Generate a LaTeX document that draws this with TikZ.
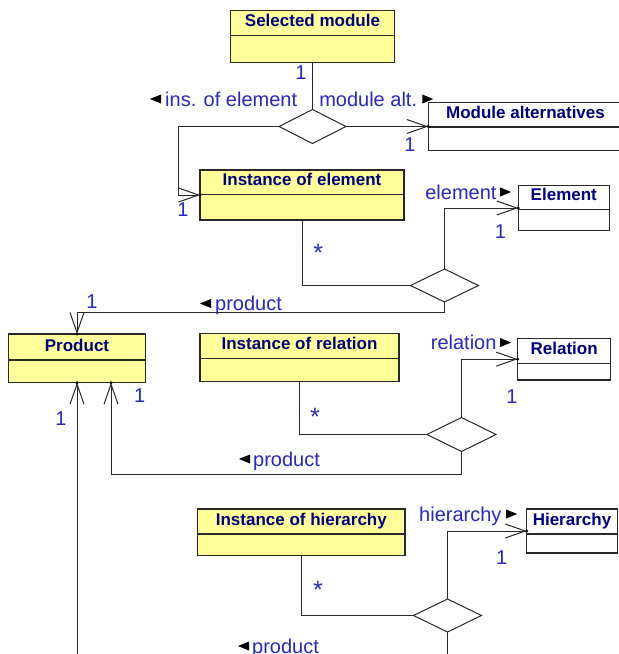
\documentclass[tikz,border=0pt]{standalone}
\usepackage{fontspec}
\usetikzlibrary{shapes.geometric,arrows.meta}

\newfontfamily\uisans{Liberation Sans}
\definecolor{clsfill}{RGB}{255,255,153}
\definecolor{clsname}{RGB}{0,0,128}
\definecolor{labblue}{RGB}{40,40,190}
\definecolor{edgegray}{RGB}{40,40,40}
\newcommand\mylabfont{\uisans\fontsize{20}{24}\selectfont}
\newcommand\mystarfont{\uisans\fontsize{25}{28}\selectfont}
\newcommand\myclassfont{\uisans\bfseries\fontsize{17}{20}\selectfont}

\tikzset{
  classbox/.style={draw=edgegray, line width=1.2pt, inner sep=0pt, outer sep=0pt},
  classname/.style={font=\myclassfont, text=clsname, inner sep=0pt, anchor=base},
  assoc/.style={draw=edgegray, line width=1pt},
  nav/.style={-{Straight Barb[length=20pt,width=14pt]}},
  agg/.style={diamond, draw=edgegray, fill=white, line width=1pt, inner sep=0pt, outer sep=0pt},
  role/.style={font=\mylabfont, text=labblue, inner sep=0pt},
  mult/.style={font=\mylabfont, text=labblue, inner sep=0pt},
  many/.style={font=\mystarfont, text=labblue, inner sep=0pt, anchor=base},
  tipmark/.style={fill=black},
}

% class box: name, fill, x1, y1, x2, y of divider, y2, title
\newcommand\umlclass[8]{%
  \node[classbox, fill=#2, minimum width={#5-#3}, minimum height={#7-#4}, anchor=north west] (#1) at (#3,#4) {};
  \draw[classbox] (#3,#6) -- (#5,#6);
  \node[classname] (#1-name) at ({(#3+#5)/2},{#6-9}) {#8};
}
% reading-direction triangles
\newcommand\trileft[1]{\fill[tipmark] (#1) ++(0pt,4.5pt) -- ++(-11pt,-4.5pt) -- ++(11pt,-4.5pt) -- cycle;}
\newcommand\triright[1]{\fill[tipmark] (#1) ++(0pt,4.5pt) -- ++(11pt,-4.5pt) -- ++(-11pt,-4.5pt) -- cycle;}

\begin{document}
\begin{tikzpicture}[x=1pt, y=-1pt]
\path[use as bounding box, fill=white] (0,0) rectangle (619,654);

% classes
\umlclass{sel}{clsfill}{230.7}{10.7}{394.3}{35.7}{62.3}{Selected module}
\umlclass{malt}{white}{428.3}{102.3}{622.7}{127}{150.3}{Module alternatives}
\umlclass{ioe}{clsfill}{200}{170}{404}{194.7}{220}{Instance of element}
\umlclass{elem}{white}{518.3}{185.3}{609.3}{209.3}{230.7}{Element}
\umlclass{prod}{clsfill}{8.3}{334}{145.7}{360}{382.7}{Product}
\umlclass{ior}{clsfill}{200}{333.3}{399}{358.3}{381.7}{Instance of relation}
\umlclass{rel}{white}{517.7}{338.3}{610.7}{363.3}{380}{Relation}
\umlclass{ioh}{clsfill}{197.7}{509}{405}{534}{555.7}{Instance of hierarchy}
\umlclass{hier}{white}{526.7}{509}{617.3}{534}{553}{Hierarchy}

% aggregation diamonds
\node[agg, minimum width=67, minimum height=34] (d1) at (312.5,126.5) {};
\node[agg, minimum width=68, minimum height=33] (d2) at (444.5,285.5) {};
\node[agg, minimum width=69, minimum height=34] (d3) at (461.5,434.5) {};
\node[agg, minimum width=68, minimum height=33] (d4) at (447.5,615.5) {};

\coordinate (pEnd) at (77,664);

% associations
\draw[assoc] (sel.south) -- (d1.north);
\draw[assoc, nav] (d1.west) -| ([xshift=-21.7pt]ioe.west) -- (ioe.west);
\draw[assoc, nav] (d1.east) -- (d1.east -| malt.west);
\draw[assoc] (ioe.south) |- (d2.west);
\draw[assoc, nav] (d2.north) |- (elem.west);
\draw[assoc, nav] (d2.south) -- ++(0,10.8) -| (prod.north);
\draw[assoc] (ior.south) |- (d3.west);
\draw[assoc, nav] (d3.north) |- (rel.west);
\draw[assoc, nav] (d3.south) -- ++(0,23.3) -| ([xshift=34pt]prod.south);
\draw[assoc] (ioh.south) |- (d4.west);
\draw[assoc, nav] (d4.north) |- (hier.west);
\draw[assoc] (d4.south) -- (d4.south |- pEnd);
\draw[assoc, nav] (pEnd) -- (prod.south);

% dots at the arrow tips
\foreach \p in {ioe.west, elem.west, prod.north, prod.south, rel.west, hier.west}
  \fill[tipmark] (\p) circle (1.6pt);
\fill[tipmark] (d1.east -| malt.west) circle (1.6pt);
\fill[tipmark] ([xshift=34pt]prod.south) circle (1.6pt);

% role names
\node[role, anchor=base west] (r1) at (165,106) {ins. of element};
\trileft{[xshift=-4pt,yshift=7pt]r1.base west}
\node[role, anchor=base east] (r2) at (417.3,106) {module alt.};
\triright{[xshift=5pt,yshift=7pt]r2.base east}
\node[role, anchor=base east] (r3) at (496.7,199) {element};
\triright{[xshift=3.5pt,yshift=7pt]r3.base east}
\node[role, anchor=base west] (r4) at (215,310.5) {product};
\trileft{[xshift=-4pt,yshift=7pt]r4.base west}
\node[role, anchor=base east] (r5) at (496.7,349.5) {relation};
\triright{[xshift=3.5pt,yshift=7pt]r5.base east}
\node[role, anchor=base west] (r6) at (253,466) {product};
\trileft{[xshift=-3pt,yshift=7pt]r6.base west}
\node[role, anchor=base east] (r7) at (501.7,521) {hierarchy};
\triright{[xshift=4.5pt,yshift=7pt]r7.base east}
\node[role, anchor=base west] (r8) at (252,653) {product};
\trileft{[xshift=-3pt,yshift=7pt]r8.base west}

% multiplicities
\node[mult] (m1) at (301,73) {1};
\node[mult] (m2) at (410,145) {1};
\node[mult] (m3) at (183,210) {1};
\node[mult] (m4) at (500.5,231.7) {1};
\node[mult] (m5) at (92,301.7) {1};
\node[mult] (m6) at (512,397) {1};
\node[mult] (m7) at (139.7,395.5) {1};
\node[mult] (m8) at (61,419) {1};
\node[mult] (m9) at (501.7,557.5) {1};
\node[many] (s1) at (318.3,261) {*};
\node[many] (s2) at (315,425) {*};
\node[many] (s3) at (318,598.5) {*};
\end{tikzpicture}
\end{document}
